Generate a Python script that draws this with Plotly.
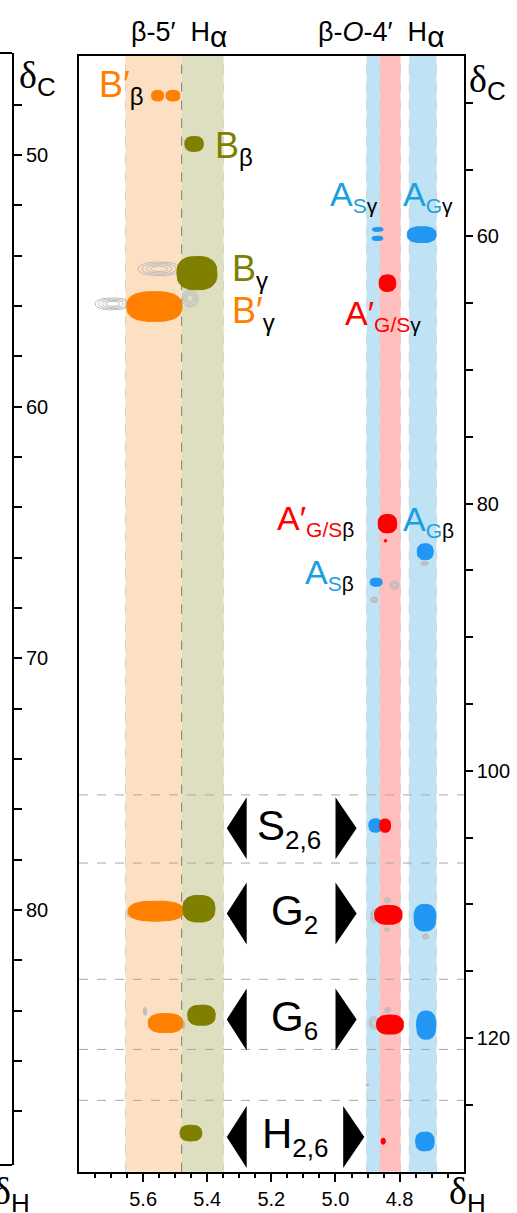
import numpy as np
import plotly.graph_objects as go

W, H = 517, 1213
FONT = "Liberation Sans, Arial, sans-serif"

# ---------------- data ----------------
# peak lists: delta_H (ppm), delta_C (ppm), half-width H (ppm), half-width C (ppm)
orange_dH = [5.555, 5.507, 5.565, 5.560, 5.530]
orange_dC = [49.47, 49.47, 65.25, 110.5, 118.88]
orange_wH = [0.019, 0.022, 0.086, 0.086, 0.054]
orange_wC = [0.40, 0.40, 1.12, 0.75, 0.72]

olive_dH = [5.441, 5.432, 5.426, 5.418, 5.451]
olive_dC = [53.08, 62.75, 110.32, 118.29, 127.11]
olive_wH = [0.029, 0.0625, 0.050, 0.043, 0.034]
olive_wC = [0.56, 1.25, 1.00, 0.76, 0.59]

blue_dH = [4.868, 4.869, 4.731, 4.873, 4.720, 4.875, 4.721, 4.717, 4.721]
blue_dC = [59.48, 60.15, 59.87, 85.88, 83.60, 104.09, 110.99, 119.03, 127.74]
blue_wH = [0.017, 0.017, 0.045, 0.019, 0.025, 0.021, 0.034, 0.030, 0.029]
blue_wC = [0.15, 0.17, 0.60, 0.31, 0.60, 0.50, 1.00, 1.06, 0.71]

red_dH = [4.838, 4.838, 4.844, 4.845, 4.835, 4.830, 4.851]
red_dC = [63.5, 81.5, 82.78, 104.1, 110.78, 118.99, 127.72]
red_wH = [0.026, 0.029, 0.004, 0.017, 0.043, 0.042, 0.007]
red_wC = [0.62, 0.69, 0.10, 0.50, 0.71, 0.72, 0.22]

gray_dH = [5.550, 5.695, 5.453, 5.640, 5.594, 5.475, 4.816, 4.879, 4.722,
           4.880, 4.838, 4.840, 4.719, 4.880, 4.838, 4.900]
gray_dC = [62.43, 65.05, 64.64, 110.6, 118.0, 119.0, 86.1, 87.2, 84.47,
           110.9, 109.7, 111.87, 112.4, 118.85, 117.9, 123.5]
gray_wH = [0.066, 0.055, 0.025, 0.010, 0.005, 0.005, 0.015, 0.012, 0.012,
           0.010, 0.010, 0.008, 0.010, 0.015, 0.010, 0.004]
gray_wC = [0.52, 0.45, 0.64, 0.35, 0.30, 0.30, 0.30, 0.22, 0.15,
           0.50, 0.20, 0.15, 0.20, 0.50, 0.20, 0.10]

# highlighted bands (delta_H ranges)
band_lo = [5.655, 5.480, 4.903, 4.862, 4.770]
band_hi = [5.480, 5.349, 4.862, 4.797, 4.685]
band_col = ["#FDDFC1", "#DEDEC1", "#BFE3F5", "#FFBFBF", "#BFE3F5"]

# horizontal separators (delta_C)
sep_dC = [101.8, 106.9, 115.6, 120.85, 124.66]

# aromatic row labels
row_text = ["S", "G", "G", "H"]
row_sub = ["2,6", "2", "6", "2,6"]
row_dC = [104.3, 110.67, 118.6, 127.4]
row_dH = [5.144, 5.128, 5.128, 5.124]
row_rtri = [5.000, 5.000, 5.000, 4.976]

# main x axis ticks
x_major = [5.6, 5.4, 5.2, 5.0, 4.8]
x_major_txt = ["5.6", "5.4", "5.2", "5.0", "4.8"]
x_minor = [5.75, 5.7, 5.65, 5.55, 5.5, 5.45, 5.35, 5.3, 5.25, 5.15, 5.1, 5.05,
           4.95, 4.9, 4.85, 4.75, 4.7, 4.65]
# right delta_C axis ticks
yR_vals = [50, 55, 60, 65, 70, 75, 80, 85, 90, 95, 100, 105, 110, 115, 120, 125]
yR_txt = ["", "", "60", "", "", "", "80", "", "", "", "100", "", "", "", "120", ""]
# left (neighbouring panel) delta_C axis ticks
yL_vals = [48, 50, 52, 54, 56, 58, 60, 62, 64, 66, 68, 70, 72, 74, 76, 78, 80,
           82, 84, 86, 88]
yL_txt = ["", "50", "", "", "", "", "60", "", "", "", "", "70", "", "", "", "",
          "80", "", "", "", ""]

# ---------------- figure ----------------
fig = go.Figure()


def blob(cx, cy, wx, wy, n=2.6, k=56):
    t = np.linspace(0, 2 * np.pi, k)
    c, s = np.cos(t), np.sin(t)
    x = cx + wx * np.sign(c) * np.abs(c) ** (2 / n)
    y = cy + wy * np.sign(s) * np.abs(s) ** (2 / n)
    return x, y


def add_peaks(dH, dC, wH, wC, color, filled=True):
    for cx, cy, wx, wy in zip(dH, dC, wH, wC):
        if filled:
            x, y = blob(cx, cy, wx, wy)
            fig.add_trace(go.Scatter(x=x, y=y, mode="lines", fill="toself",
                                     fillcolor=color, line=dict(color=color, width=1),
                                     hoverinfo="skip", showlegend=False))
        else:
            for f in (1.0, 0.8, 0.6, 0.4):
                x, y = blob(cx, cy, wx * f, wy * f, n=2.2)
                fig.add_trace(go.Scatter(x=x, y=y, mode="lines",
                                         line=dict(color=color, width=1),
                                         hoverinfo="skip", showlegend=False))


add_peaks(gray_dH, gray_dC, gray_wH, gray_wC, "#BDBDBD", filled=False)
add_peaks(orange_dH, orange_dC, orange_wH, orange_wC, "#FF8000")
add_peaks(olive_dH, olive_dC, olive_wH, olive_wC, "#7F7F00")
add_peaks(blue_dH, blue_dC, blue_wH, blue_wC, "#2196F3")
add_peaks(red_dH, red_dC, red_wH, red_wC, "#FF0000")

# invisible trace for the neighbouring panel axis
fig.add_trace(go.Scatter(x=[0.5], y=[60], xaxis="x2", yaxis="y3", mode="markers",
                         marker=dict(opacity=0), hoverinfo="skip", showlegend=False))

shapes = []
for lo, hi, col in zip(band_lo, band_hi, band_col):
    shapes.append(dict(type="rect", xref="x", yref="y domain", x0=lo, x1=hi, y0=0, y1=1,
                       fillcolor=col, line=dict(width=0), layer="below"))
for i, (lo, hi) in enumerate(zip(band_lo, band_hi)):
    for xv in (lo, hi):
        dark = abs(xv - 5.48) < 1e-6
        shapes.append(dict(type="line", xref="x", yref="y domain", x0=xv, x1=xv, y0=0, y1=1,
                           line=dict(color="#8A8A8A" if dark else "#D2D2D2", width=1,
                                     dash="dash"), layer="below"))
for yv in sep_dC:
    shapes.append(dict(type="line", xref="x domain", yref="y", x0=0, x1=1, y0=yv, y1=yv,
                       line=dict(color="#A8A8A8", width=1, dash="dash"), layer="below"))

annotations = []
for t, sb, yc, xc, xr in zip(row_text, row_sub, row_dC, row_dH, row_rtri):
    hh = 2.32
    shapes.append(dict(type="path", xref="x", yref="y",
                       path=f"M 5.339 {yc} L 5.277 {yc-hh} L 5.277 {yc+hh} Z",
                       fillcolor="black", line=dict(width=0)))
    shapes.append(dict(type="path", xref="x", yref="y",
                       path=f"M {xr} {yc-hh} L {xr-0.066} {yc} L {xr} {yc+hh} Z",
                       fillcolor="black", line=dict(width=0)))
    annotations.append(dict(x=xc, y=yc, xref="x", yref="y", showarrow=False,
                            xanchor="center", yanchor="middle",
                            text=f'{t}<sub><span style="font-size:26px">{sb}</span></sub>',
                            font=dict(family=FONT, size=42, color="black")))

# left panel box lines (paper coords)
shapes.append(dict(type="line", xref="paper", yref="paper", x0=0, x1=12 / W,
                   y0=1 - 53 / H, y1=1 - 53 / H, line=dict(color="black", width=2)))
shapes.append(dict(type="line", xref="paper", yref="paper", x0=0, x1=12 / W,
                   y0=1 - 1165 / H, y1=1 - 1165 / H, line=dict(color="black", width=2)))

OR, OL, BL, RD = "#FF8000", "#7F7F00", "#1AA0E0", "#FF0000"


def lab(x, y, main, col, sub_col, sub_black, size=36, ssize=22):
    s = f'<span style="color:{col}">{main}</span><sub><span style="font-size:{ssize}px">'
    if sub_col:
        s += f'<span style="color:{col}">{sub_col}</span>'
    s += f'{sub_black}</span></sub>'
    annotations.append(dict(x=x, y=y, xref="x", yref="y", showarrow=False,
                            xanchor="left", yanchor="middle", text=s,
                            font=dict(family=FONT, size=size, color="black")))


lab(5.744, 48.85, "B′", OR, "", "β", 36, 24)
lab(5.381, 53.35, "B", OL, "", "β", 36, 24)
lab(5.328, 62.6, "B", OL, "", "γ", 36, 24)
lab(5.328, 65.7, "B′", OR, "", "γ", 36, 24)
lab(5.022, 57.0, "A", BL, "S", "γ", 34, 21)
lab(4.797, 57.0, "A", BL, "G", "γ", 34, 21)
lab(4.975, 65.9, "A′", RD, "G/S", "γ", 34, 21)
lab(5.1875, 81.2, "A′", RD, "G/S", "β", 34, 21)
lab(4.797, 81.3, "A", BL, "G", "β", 34, 21)
lab(5.100, 85.3, "A", BL, "S", "β", 34, 21)

# titles
NB = "\u00a0"
annotations.append(dict(x=179 / W, y=1 - 35 / H, xref="paper", yref="paper", showarrow=False,
                        xanchor="center", yanchor="middle",
                        text=f'β-5′{NB} H<sub><span style="font-size:30px">α</span></sub>',
                        font=dict(family=FONT, size=27, color="black")))
annotations.append(dict(x=381 / W, y=1 - 35 / H, xref="paper", yref="paper", showarrow=False,
                        xanchor="center", yanchor="middle",
                        text=f'β-<i>O</i>-4′{NB} H<sub><span style="font-size:30px">α</span></sub>',
                        font=dict(family=FONT, size=27, color="black")))


def dlabel(x, y, sub, xanchor):
    annotations.append(dict(x=x, y=y, xref="paper", yref="paper", showarrow=False,
                            xanchor=xanchor, yanchor="top",
                            text=f'<span style="font-family:Liberation Serif">δ</span>'
                                 f'<sub><span style="font-size:26px">{sub}</span></sub>',
                            font=dict(family=FONT, size=38, color="black")))


dlabel(467 / W, 1 - 56 / H, "C", "left")
dlabel(17 / W, 1 - 52 / H, "C", "left")
dlabel(447 / W, 1 - 1168 / H, "H", "left")
dlabel(32 / W, 1 - 1168 / H, "H", "right")

fig.update_layout(
    width=W, height=H, margin=dict(l=0, r=0, t=0, b=0),
    paper_bgcolor="white", plot_bgcolor="white", showlegend=False,
    shapes=shapes, annotations=annotations,
    font=dict(family=FONT, size=20, color="black"),
    xaxis=dict(domain=[79 / W, 463.7 / W], range=[5.8, 4.6], showgrid=False, zeroline=False,
               showline=True, linecolor="black", linewidth=2, mirror=True,
               ticks="outside", ticklen=8, tickwidth=2, tickcolor="black",
               tickvals=x_major, ticktext=x_major_txt, tickfont=dict(size=20),
               minor=dict(tickvals=x_minor, ticks="outside", ticklen=4, tickwidth=2,
                          tickcolor="black", showgrid=False)),
    yaxis=dict(domain=[1 - 1171.7 / H, 1 - 56 / H], range=[130, 46.5], side="right",
               showgrid=False, zeroline=False, showline=True, linecolor="black",
               linewidth=2, mirror=True, ticks="outside", ticklen=7, tickwidth=2,
               tickcolor="black", tickvals=yR_vals, ticktext=yR_txt, tickfont=dict(size=20)),
    xaxis2=dict(domain=[0, 12 / W], range=[0, 1], visible=False),
    yaxis3=dict(domain=[1 - 1165 / H, 1 - 53 / H], range=[90.13, 45.95], anchor="x2",
                side="right", showgrid=False, zeroline=False, showline=True,
                linecolor="black", linewidth=2, ticks="outside", ticklen=8, tickwidth=2,
                tickcolor="black", tickvals=yL_vals, ticktext=yL_txt, tickfont=dict(size=20)),
)

fig.write_html("out.html")
